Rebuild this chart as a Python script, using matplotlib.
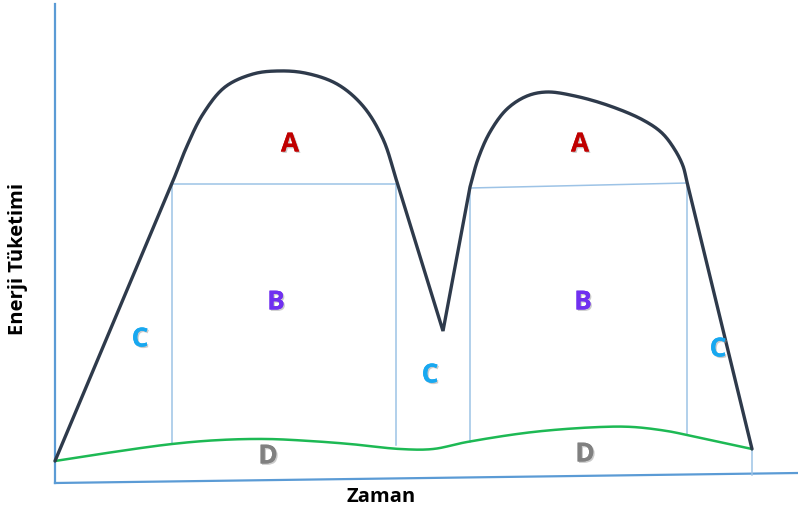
import numpy as np
import matplotlib
matplotlib.use("Agg")
import matplotlib.pyplot as plt
import matplotlib.patheffects as pe

# Enerji tüketim eğrisi (resim koordinatları, y aşağı doğru)
# düz parçalar ve yumuşak tepeler ayrı tutuldu
rise1_x, rise1_y = [55, 173], [462, 182]
peak1_x = [173, 187, 203, 225, 253, 277, 305, 337, 363, 383, 397]
peak1_y = [182, 147, 115, 88, 75, 72, 74, 85, 107, 140, 183]
valley_x, valley_y = [397, 443, 470], [183, 332, 188]
peak2_x = [470, 478, 490, 507, 527, 547, 575, 610, 643, 662, 675, 683, 687]
peak2_y = [188, 160, 133, 110, 97, 93, 97, 107, 121, 134, 151, 167, 183]
fall2_x, fall2_y = [687, 752], [183, 450]

# taban yük (D)
base_x = [55, 100, 172, 220, 267, 310, 350, 400, 433, 467, 533, 600, 633, 667, 687, 752]
base_y = [462, 455, 445, 441, 440, 442, 445, 450, 450, 443, 433, 428, 428, 432, 436, 450]

# kutular (B)
box1 = dict(x0=172, x1=396, top0=185, top1=185, bot0=445, bot1=446)
box2 = dict(x0=470, x1=687, top0=189, top1=184, bot0=443, bot1=436)

labels = [("A", 290, 145, "#c00000"), ("A", 580, 145, "#c00000"),
          ("B", 276, 303, "#7030f0"), ("B", 583, 303, "#7030f0"),
          ("C", 140, 340, "#18a8f0"), ("C", 430, 376, "#18a8f0"), ("C", 718, 350, "#18a8f0"),
          ("D", 268, 457, "#808080"), ("D", 585, 455, "#808080")]


def smooth(xs, ys, n=16, alpha=0.5):
    # centripetal Catmull-Rom, sadece çizim için
    p = np.column_stack([xs, ys]).astype(float)
    p = np.vstack([2 * p[0] - p[1], p, 2 * p[-1] - p[-2]])
    out = []
    for i in range(1, len(p) - 2):
        p0, p1, p2, p3 = p[i - 1], p[i], p[i + 1], p[i + 2]
        t0 = 0.0
        t1 = t0 + np.linalg.norm(p1 - p0) ** alpha
        t2 = t1 + np.linalg.norm(p2 - p1) ** alpha
        t3 = t2 + np.linalg.norm(p3 - p2) ** alpha
        for t in np.linspace(t1, t2, n, endpoint=False):
            a1 = (t1 - t) / (t1 - t0) * p0 + (t - t0) / (t1 - t0) * p1
            a2 = (t2 - t) / (t2 - t1) * p1 + (t - t1) / (t2 - t1) * p2
            a3 = (t3 - t) / (t3 - t2) * p2 + (t - t2) / (t3 - t2) * p3
            b1 = (t2 - t) / (t2 - t0) * a1 + (t - t0) / (t2 - t0) * a2
            b2 = (t3 - t) / (t3 - t1) * a2 + (t - t1) / (t3 - t1) * a3
            out.append((t2 - t) / (t2 - t1) * b1 + (t - t1) / (t2 - t1) * b2)
    out.append(p[-2])
    out = np.array(out)
    return out[:, 0], out[:, 1]


fig = plt.figure(figsize=(7.98, 5.10), dpi=100)
ax = fig.add_axes([0, 0, 1, 1])
ax.set_xlim(0, 798)
ax.set_ylim(510, 0)
ax.axis("off")

axis_c = "#5b9bd5"
box_c = "#9dc3e6"

# eksenler
ax.plot([55, 55], [5, 484], color=axis_c, lw=1.6)
ax.plot([55, 798], [484, 474], color=axis_c, lw=1.6)

for b in (box1, box2):
    ax.plot([b["x0"], b["x1"]], [b["top0"], b["top1"]], color=box_c, lw=1.1)
    ax.plot([b["x0"], b["x0"]], [b["top0"], b["bot0"]], color=box_c, lw=1.1)
    ax.plot([b["x1"], b["x1"]], [b["top1"], b["bot1"]], color=box_c, lw=1.1)
ax.plot([752, 752], [450, 476], color=box_c, lw=1.1)

x, y = smooth(base_x, base_y)
ax.plot(x, y, color="#1db954", lw=1.8, solid_capstyle="round")

# ana eğri
px1, py1 = smooth(peak1_x, peak1_y)
px2, py2 = smooth(peak2_x, peak2_y)
cx = np.concatenate([rise1_x, px1[1:], valley_x[1:], px2[1:], fall2_x[1:]])
cy = np.concatenate([rise1_y, py1[1:], valley_y[1:], py2[1:], fall2_y[1:]])
ax.plot(cx, cy, color="#2e3a4b", lw=2.4, solid_capstyle="round", solid_joinstyle="miter")

shadow = [pe.withSimplePatchShadow(offset=(1, -1), shadow_rgbFace="#999999", alpha=0.5), pe.Normal()]
for s, lx, ly, c in labels:
    ax.text(lx, ly, s, color=c, fontsize=19, fontweight="bold", family="Open Sans",
            ha="center", va="center", path_effects=shadow)

ax.text(18, 259, "Enerji Tüketimi", rotation=90, fontsize=14.5, fontweight="bold",
        family="Open Sans", ha="center", va="center")
ax.text(381, 497, "Zaman", fontsize=14.5, fontweight="bold", family="Open Sans",
        ha="center", va="center")

fig.savefig("out.png", dpi=100)
